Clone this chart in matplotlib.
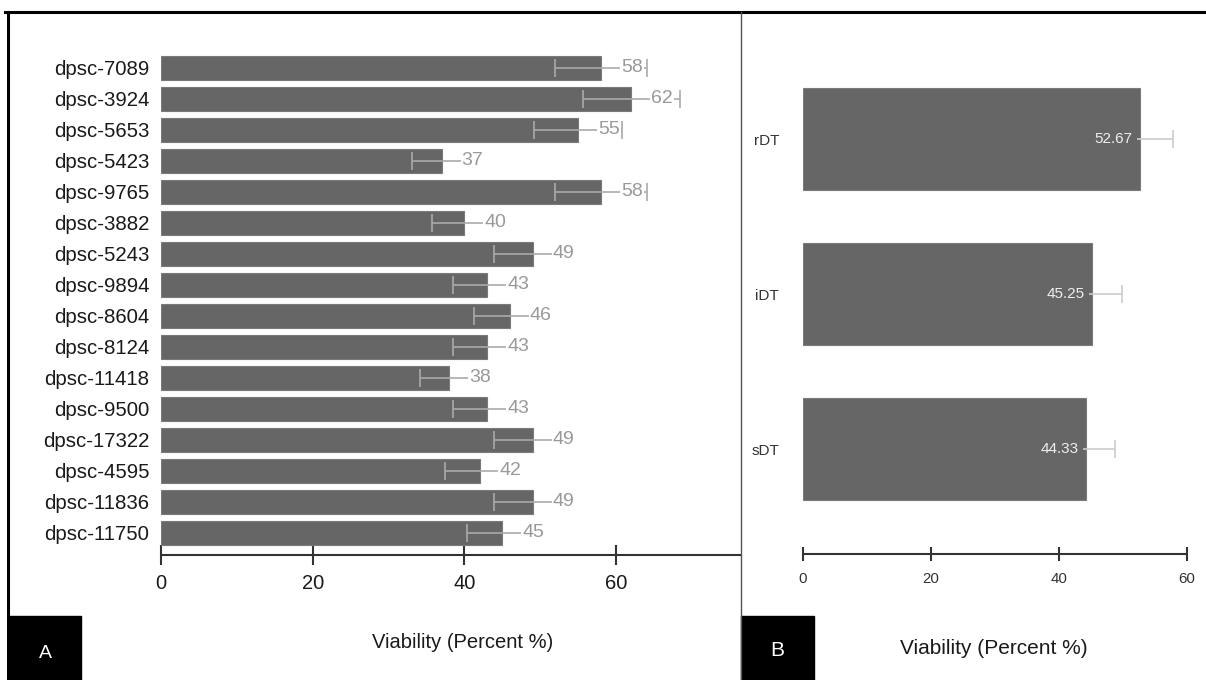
import matplotlib
matplotlib.use('Agg')
import matplotlib.pyplot as plt
import numpy as np

plt.rcParams['font.family'] = ['Liberation Sans', 'DejaVu Sans']

# panel A data
samples = ['dpsc-7089', 'dpsc-3924', 'dpsc-5653', 'dpsc-5423', 'dpsc-9765',
           'dpsc-3882', 'dpsc-5243', 'dpsc-9894', 'dpsc-8604', 'dpsc-8124',
           'dpsc-11418', 'dpsc-9500', 'dpsc-17322', 'dpsc-4595', 'dpsc-11836',
           'dpsc-11750']
viab = [58, 62, 55, 37, 58, 40, 49, 43, 46, 43, 38, 43, 49, 42, 49, 45]
viab_err = [6.1, 6.4, 5.8, 3.9, 6.1, 4.3, 5.1, 4.5, 4.8, 4.5, 3.9, 4.5, 5.1, 4.5, 5.1, 4.7]
ticks_a = [0, 20, 40, 60]

# panel B data
groups = ['rDT', 'iDT', 'sDT']
grp_mean = [52.67, 45.25, 44.33]
grp_err = [5.2, 4.6, 4.5]
ticks_b = [0, 20, 40, 60]

W, H = 1206, 680
fig = plt.figure(figsize=(W / 100, H / 100), dpi=100)
fig.patch.set_facecolor('white')

def fx(px):
    return px / W

def fy(py):
    return 1 - py / H

BAR = '#666666'
DARK = '#333333'

# ---- panel A ----
n = len(samples)
yA = np.arange(n)
top_a, bot_a = -0.6, 15.71
axA = fig.add_axes([fx(161), fy(555), fx(740) - fx(161), fy(49.4) - fy(555)])
axA.barh(yA, viab, height=0.79, color=BAR, edgecolor='#7a7a7a', linewidth=0.8, zorder=2)
axA.errorbar(viab, yA, xerr=viab_err, fmt='none', ecolor='#aaaaaa', elinewidth=1.2,
             capsize=6.5, capthick=1.2, zorder=3)
for v, y in zip(viab, yA):
    axA.annotate(str(v), xy=(v, y), xytext=(14.3, 0), textcoords='offset points',
                 ha='left', va='center', fontsize=14, color='#999999', zorder=4,
                 bbox=dict(boxstyle='square,pad=0.05', fc='white', ec='none'))
axA.set_xlim(0, (740 - 161) / 7.585)
axA.set_ylim(bot_a, top_a)
axA.set_yticks(yA)
axA.set_yticklabels(samples, fontsize=14.7, color='#1a1a1a')
axA.tick_params(axis='y', length=0, pad=8.5)
axA.set_xticks(ticks_a)
axA.set_xticklabels([str(t) for t in ticks_a], fontsize=14.5, color='#1a1a1a')
axA.tick_params(axis='x', direction='inout', length=15, width=1.5, color=DARK, pad=6.5)
for s in ['top', 'right', 'left']:
    axA.spines[s].set_visible(False)
axA.spines['bottom'].set_color(DARK)
axA.spines['bottom'].set_linewidth(1.5)
axA.patch.set_alpha(0)
fig.text(fx(463), fy(643), 'Viability (Percent %)', ha='center', va='center',
         fontsize=14.5, color='#1a1a1a')

# ---- panel B ----
yB = np.arange(len(groups))
axB = fig.add_axes([fx(802.7), fy(554), fx(1186.7) - fx(802.7), fy(46) - fy(554)])
axB.barh(yB, grp_mean, height=0.66, color=BAR, edgecolor='#7a7a7a', linewidth=0.8, zorder=2)
axB.errorbar(grp_mean, yB, xerr=grp_err, fmt='none', ecolor='#cccccc', elinewidth=1.2,
             capsize=6.5, capthick=1.2, zorder=3)
for v, y in zip(grp_mean, yB):
    axB.annotate('%.2f' % v, xy=(v, y), xytext=(-5.5, 0), textcoords='offset points',
                 ha='right', va='center', fontsize=11, color='#eeeeee', zorder=4,
                 bbox=dict(boxstyle='square,pad=0.3', fc=BAR, ec='none'))
axB.set_xlim(0, 60)
axB.set_ylim(2.677, -0.6)
axB.set_yticks(yB)
axB.set_yticklabels(groups, fontsize=11, color=DARK)
axB.tick_params(axis='y', length=0, pad=17)
axB.set_xticks(ticks_b)
axB.set_xticklabels([str(t) for t in ticks_b], fontsize=10.8, color=DARK)
axB.tick_params(axis='x', direction='inout', length=10.5, width=1.5, color=DARK, pad=7.5)
for s in ['top', 'right', 'left']:
    axB.spines[s].set_visible(False)
axB.spines['bottom'].set_color(DARK)
axB.spines['bottom'].set_linewidth(1.5)
axB.spines['bottom'].set_capstyle('butt')
axB.patch.set_alpha(0)
fig.text(fx(994), fy(649), 'Viability (Percent %)', ha='center', va='center',
         fontsize=15, color='#1a1a1a')

# ---- frame, divider and panel letters ----
fig.add_artist(plt.Line2D([fx(5), 1], [fy(11.5), fy(11.5)], color='black', lw=2.2))
fig.add_artist(plt.Line2D([fx(8), fx(8)], [fy(11.5), 0], color='black', lw=2.2))
fig.add_artist(plt.Line2D([fx(740.5), fx(740.5)], [fy(11.5), 0], color='#555555', lw=1))
fig.add_artist(plt.Rectangle((fx(8), 0), fx(81) - fx(8), fy(616), color='black'))
fig.add_artist(plt.Rectangle((fx(741), 0), fx(814) - fx(741), fy(616), color='black'))
fig.text(fx(45), fy(653), 'A', color='white', fontsize=14, ha='center', va='center')
fig.text(fx(777), fy(650), 'B', color='white', fontsize=15, ha='center', va='center')

fig.savefig('out.png', dpi=100)
